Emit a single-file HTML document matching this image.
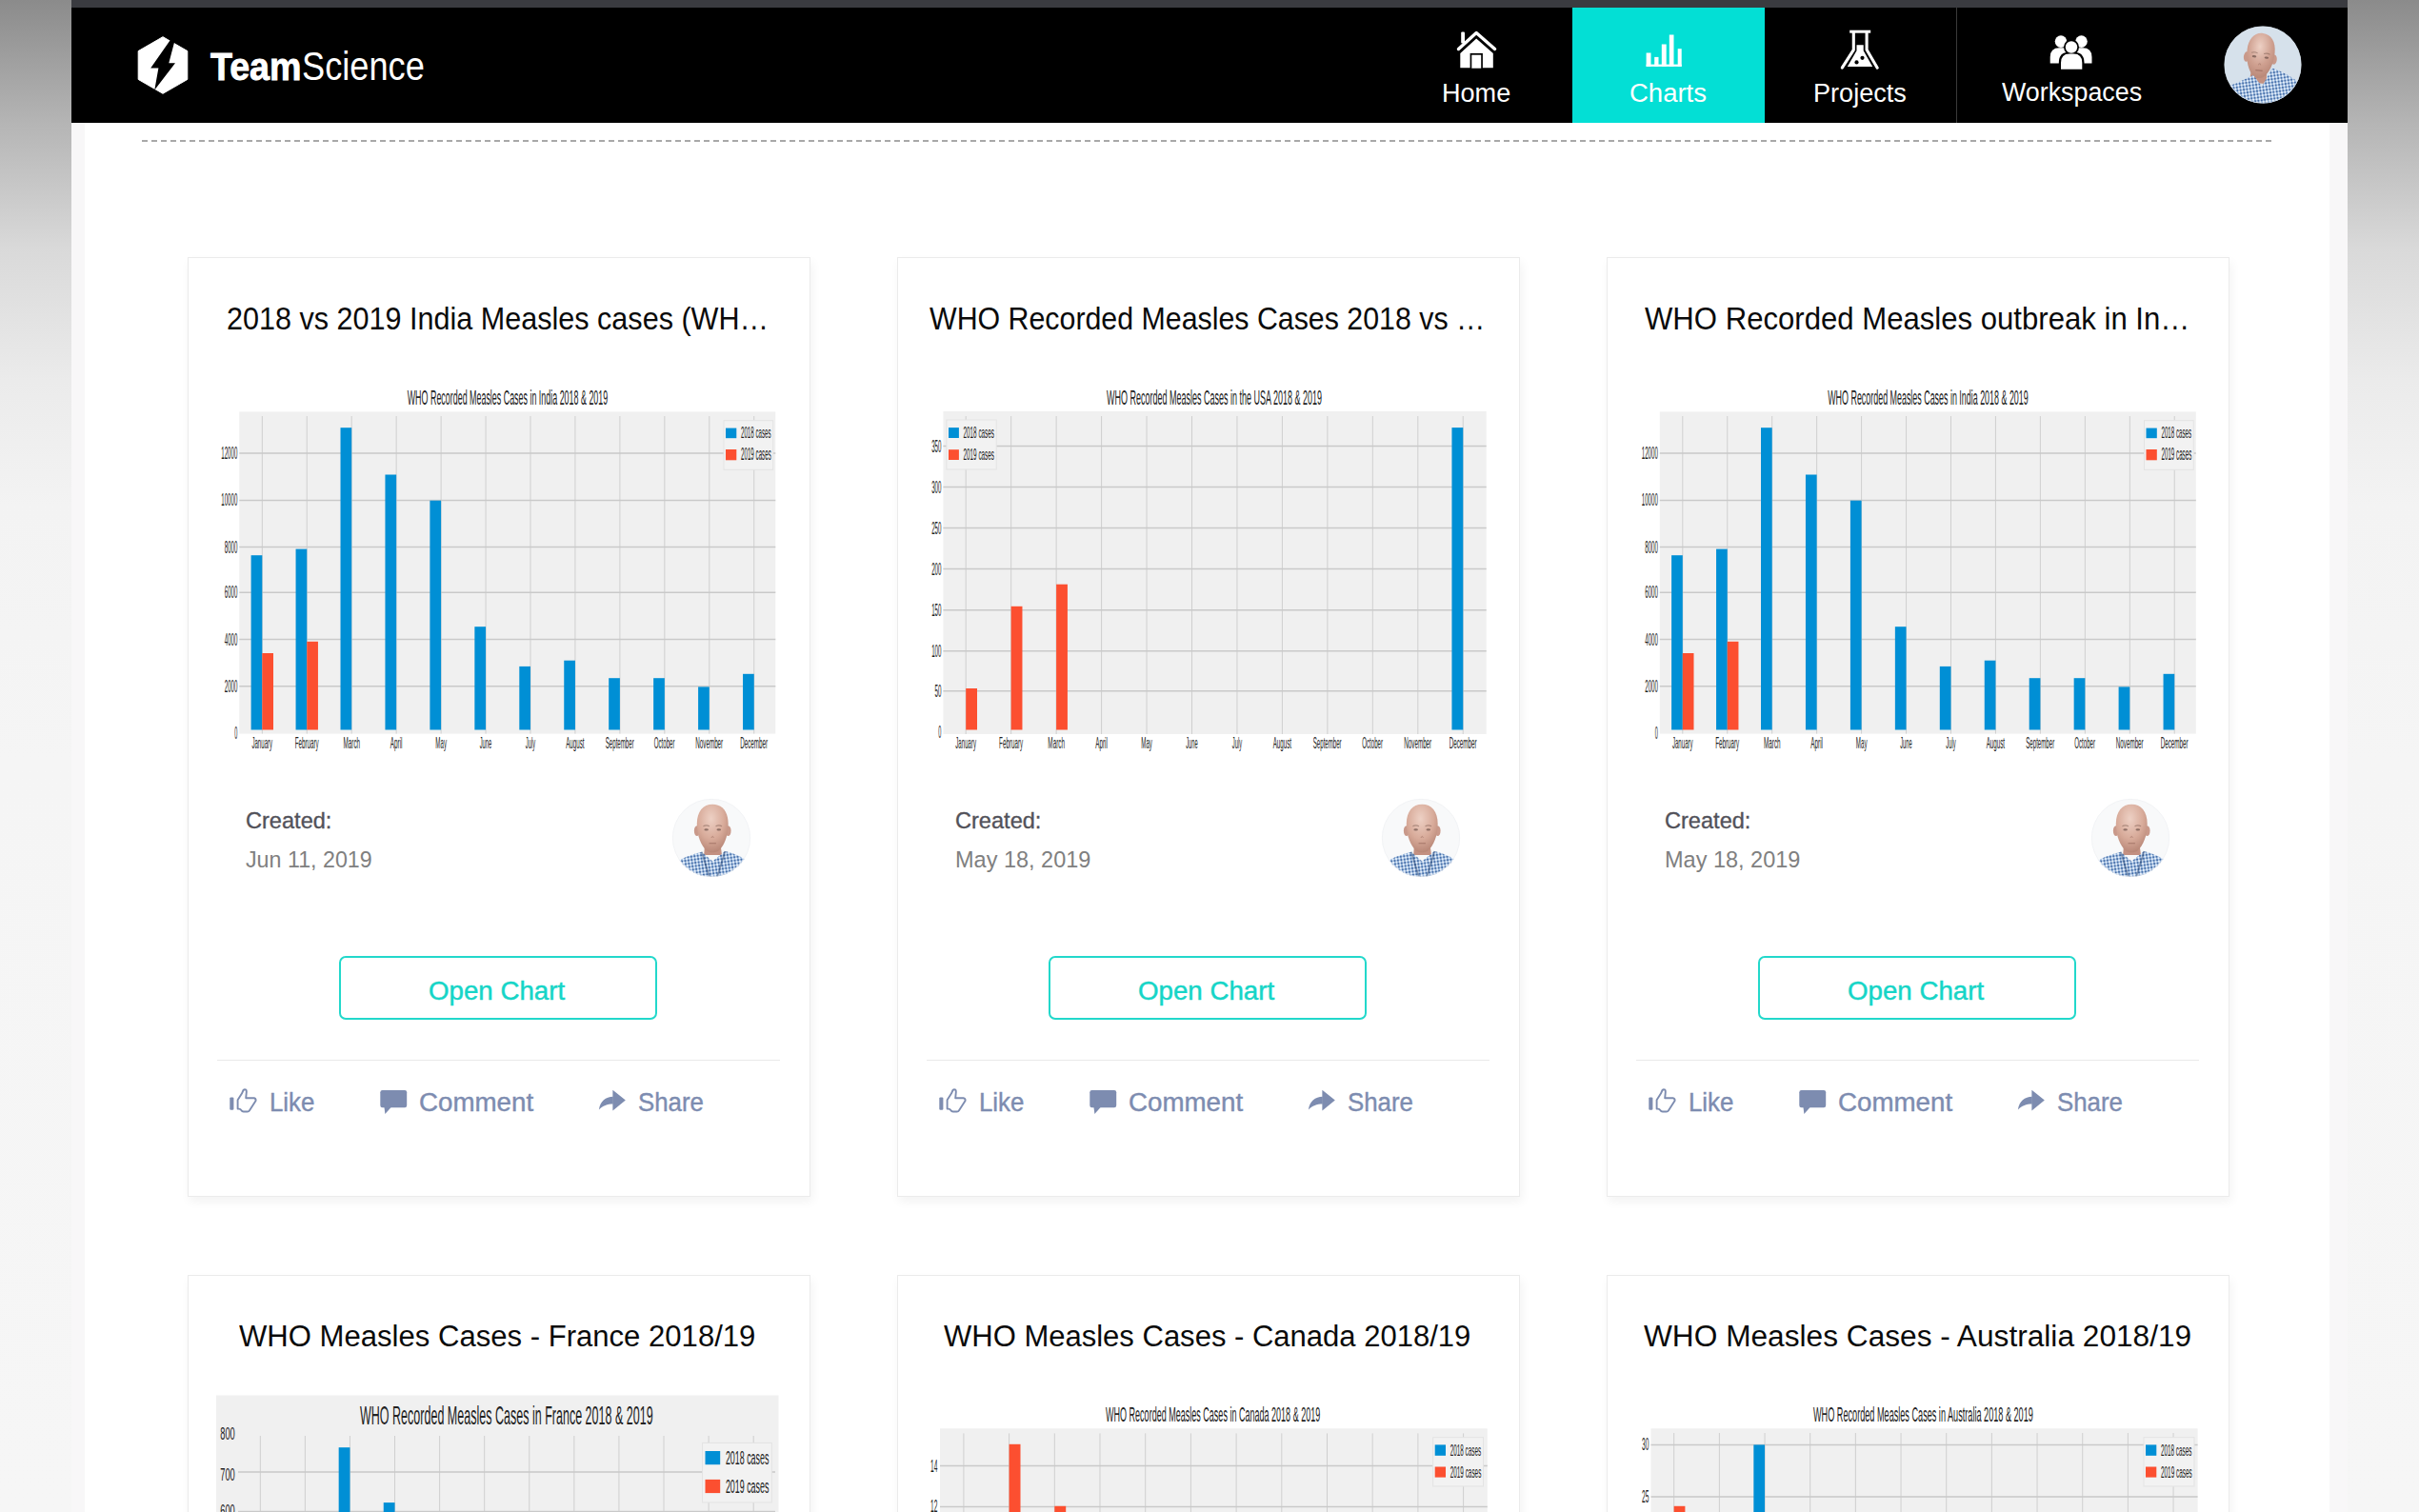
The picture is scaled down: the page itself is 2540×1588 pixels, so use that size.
<!DOCTYPE html><html><head><meta charset="utf-8"><style>
html,body{margin:0;padding:0}
body{width:2540px;height:1588px;overflow:hidden;position:relative;background:#f5f5f5;font-family:"Liberation Sans",sans-serif}
.a{position:absolute}
.t{position:absolute;white-space:nowrap;line-height:1;transform-origin:0 0}
svg{position:absolute;left:0;top:0;overflow:visible}
.card{position:absolute;background:#fff;border:1px solid #ebebeb;box-sizing:border-box;box-shadow:2px 5px 10px rgba(0,0,0,0.05)}
</style></head><body>

<div class="a" style="left:0;top:0;width:75px;height:1588px;background:linear-gradient(#8b8b8b 0px,#b5b5b5 130px,#d9d9d9 260px,#ebebeb 400px,#f3f3f3 530px,#f5f5f5 800px,#f6f6f6 1588px)"></div>
<div class="a" style="left:2465px;top:0;width:75px;height:1588px;background:linear-gradient(#8b8b8b 0px,#b5b5b5 130px,#d9d9d9 260px,#ebebeb 400px,#f3f3f3 530px,#f5f5f5 800px,#f6f6f6 1588px)"></div>
<div class="a" style="left:75px;top:0;width:2390px;height:8px;background:#3a3b40"></div>
<div class="a" style="left:75px;top:8px;width:2390px;height:121px;background:#000"></div>
<div class="a" style="left:75px;top:129px;width:2390px;height:1459px;background:#f8f7f8"></div>
<div class="a" style="left:89px;top:129px;width:2357px;height:1459px;background:#fff"></div>
<svg width="2540" height="1588"><line x1="149" y1="148" x2="2386" y2="148" stroke="#a8a8a8" stroke-width="2" stroke-dasharray="6 4"/></svg>
<div class="a" style="left:1651px;top:8px;width:202px;height:121px;background:#03dfd5"></div>
<div class="a" style="left:2054px;top:8px;width:1px;height:121px;background:#3a3a3a"></div>
<svg width="2540" height="1588"><polygon points="171,38.7 196.8,53.6 196.8,83.4 171,98.3 145.2,83.4 145.2,53.6" fill="#fff" stroke="#fff" stroke-width="1" stroke-linejoin="round"/><polygon points="179,41.8 183.2,43.8 177.3,66.2 184,66.2 162.3,94.5 166.4,71.6 158.2,71.6" fill="#000"/><path d="M1531.5 51.5 L1550.2 34.5 L1569.6 51.5" fill="none" stroke="#fff" stroke-width="3.4" stroke-linecap="round" stroke-linejoin="round"/><rect x="1534.2" y="33.5" width="3.8" height="12" fill="#fff" rx="1"/><path d="M1533.3 56 L1550.2 40.5 L1567.8 56 L1567.8 71.2 L1533.3 71.2 Z" fill="#fff"/><rect x="1543.6" y="55.9" width="13.3" height="16" fill="#000"/><rect x="1545.3" y="57.7" width="9.9" height="14" fill="#fff"/><rect x="1728.6" y="55.5" width="4.9" height="14.4" fill="#fff"/><rect x="1737.2" y="59.9" width="4.3" height="10.0" fill="#fff"/><rect x="1744.8" y="46.5" width="4.9" height="23.4" fill="#fff"/><rect x="1752.8" y="36.5" width="4.7" height="33.4" fill="#fff"/><rect x="1761.7" y="51.2" width="4.0" height="18.7" fill="#fff"/><rect x="1728.6" y="67.6" width="37.1" height="2.3" fill="#fff"/><path d="M1942.2 33.2 L1964.2 33.2" stroke="#fff" stroke-width="3" stroke-linecap="butt"/><path d="M1946.3 34 L1946.3 52.3 L1934.3 71.2" fill="none" stroke="#fff" stroke-width="3.1" stroke-linejoin="round" stroke-linecap="round"/><path d="M1960.1 34 L1960.1 52.3 L1971.2 71.2" fill="none" stroke="#fff" stroke-width="3.1" stroke-linejoin="round" stroke-linecap="round"/><path d="M1949.5 47.3 L1956.7 47.3 L1956.7 53.2 L1966.2 70 L1939.8 70 L1949.5 53.2 Z" fill="#fff"/><circle cx="1955.5" cy="60.8" r="2.1" fill="#000"/><circle cx="1949.5" cy="65.4" r="2.1" fill="#000"/><circle cx="2164" cy="43.6" r="6.3" fill="#fff"/><circle cx="2185.5" cy="43.6" r="6.3" fill="#fff"/><path d="M2152.7 66.4 L2152.7 60 Q2152.7 50.2 2162.5 50.2 L2166 50.2 Q2175.5 50.2 2175.5 60 L2175.5 66.4 Z" fill="#fff"/><path d="M2173.5 66.4 L2173.5 60 Q2173.5 50.2 2183.3 50.2 L2186.8 50.2 Q2196.5 50.2 2196.5 60 L2196.5 66.4 Z" fill="#fff"/><circle cx="2175" cy="49.5" r="8" fill="#000"/><path d="M2161.8 74.5 L2161.8 66 Q2161.8 54.8 2172.5 54.8 L2177.5 54.8 Q2188.5 54.8 2188.5 66 L2188.5 74.5 Z" fill="#000"/><circle cx="2175" cy="49.5" r="6.2" fill="#fff"/><path d="M2164 72.7 L2164 66 Q2164 56.5 2173 56.5 L2177.3 56.5 Q2186.3 56.5 2186.3 66 L2186.3 72.7 Z" fill="#fff"/></svg>
<div class="t" style="left:220.50px;top:49.39px;font-size:41.57px;color:#fff;font-weight:bold;transform:scaleX(0.9048);-webkit-text-stroke:0.9px #fff">Team</div>
<div class="t" style="left:316.50px;top:48.78px;font-size:42.29px;color:#fff;transform:scaleX(0.8567)">Science</div>
<div class="t" style="left:1514.00px;top:83.12px;font-size:28.19px;color:#fff;transform:scaleX(0.9600)">Home</div>
<div class="t" style="left:1711.00px;top:83.12px;font-size:28.19px;color:#fff;transform:scaleX(0.9759)">Charts</div>
<div class="t" style="left:1904.00px;top:83.12px;font-size:28.19px;color:#fff;transform:scaleX(0.9608)">Projects</div>
<div class="t" style="left:2102.00px;top:83.21px;font-size:27.38px;color:#fff;transform:scaleX(0.9800)">Workspaces</div>
<svg width="2540" height="1588"><defs><clipPath id="avc1"><circle cx="50" cy="50" r="50"/></clipPath><pattern id="avp1" width="4.2" height="4.2" patternUnits="userSpaceOnUse" patternTransform="rotate(-8)"><rect width="4.2" height="4.2" fill="#eaf0f8"/><rect width="2.1" height="4.2" fill="#98b9e0"/><rect width="4.2" height="2.1" fill="#98b9e0" opacity="0.8"/><rect width="2.1" height="2.1" fill="#4a6fa6"/></pattern><radialGradient id="avs1" cx="0.45" cy="0.3" r="0.7"><stop offset="0" stop-color="#edd0c4"/><stop offset="0.6" stop-color="#cfa090"/><stop offset="1" stop-color="#b98878"/></radialGradient></defs><g transform="translate(2335.50 27.50) scale(0.8100)"><g clip-path="url(#avc1)"><rect x="0" y="0" width="100" height="100" fill="#d6e1eb"/><g transform="rotate(6.0 47.0 38.5)"><path d="M36.0 74.0 L37.0 58.5 L57.0 58.5 L59.0 74.0 Z" fill="#c39181"/><ellipse cx="29.0" cy="41.5" rx="3.6" ry="6.5" fill="#c9998a"/><ellipse cx="65.0" cy="41.5" rx="3.6" ry="6.5" fill="#c9998a"/><path d="M47.0 9.0 C57.8 9.0 65.0 18.0 65.0 32.5 C65.0 47.5 60.5 59.0 53.3 66.0 C49.7 68.0 44.3 68.0 40.7 66.0 C33.5 59.0 29.0 47.5 29.0 32.5 C29.0 18.0 36.2 9.0 47.0 9.0 Z" fill="url(#avs1)"/><ellipse cx="39.0" cy="40.0" rx="2.8" ry="1.4" fill="#4a3430" opacity="0.55"/><ellipse cx="55.0" cy="40.0" rx="2.8" ry="1.4" fill="#4a3430" opacity="0.55"/><path d="M35.0 35.5 q4 -2 8 0 M51.0 35.5 q4 -2 8 0" stroke="#7a5a50" stroke-width="1.3" fill="none" opacity="0.5"/><path d="M45.5 50.5 q1.5 -4 3 0" stroke="#9a6c60" stroke-width="1.2" fill="none" opacity="0.5"/><path d="M42.5 57.5 h9" stroke="#8a5a50" stroke-width="1.3" opacity="0.55"/></g><path d="M-5 105 L-2 84 Q8 76 16.7 73.5 L37.6 63.6 L49 78 L62.3 54.2 Q85 62 100 76 L105 105 Z" fill="url(#avp1)"/></g><circle cx="50" cy="50" r="49.6" fill="none" stroke="#d6e1eb" stroke-width="0.8"/></g></svg>
<div class="card" style="left:197px;top:270px;width:654px;height:987px"></div>
<div class="card" style="left:942px;top:270px;width:654px;height:987px"></div>
<div class="card" style="left:1687px;top:270px;width:654px;height:987px"></div>
<div class="card" style="left:197px;top:1339px;width:654px;height:400px"></div>
<div class="card" style="left:942px;top:1339px;width:654px;height:400px"></div>
<div class="card" style="left:1687px;top:1339px;width:654px;height:400px"></div>
<div class="t" style="left:238.00px;top:319.19px;font-size:32.48px;color:#0a0a0a;transform:scaleX(0.9413)">2018 vs 2019 India Measles cases (WH…</div>
<div class="t" style="left:976.20px;top:319.19px;font-size:32.48px;color:#0a0a0a;transform:scaleX(0.9343)">WHO Recorded Measles Cases 2018 vs …</div>
<div class="t" style="left:1727.40px;top:319.19px;font-size:32.48px;color:#0a0a0a;transform:scaleX(0.9583)">WHO Recorded Measles outbreak in In…</div>
<div class="t" style="left:250.70px;top:1388.18px;font-size:30.60px;color:#0a0a0a;transform:scaleX(1.0159)">WHO Measles Cases - France 2018/19</div>
<div class="t" style="left:991.30px;top:1388.18px;font-size:30.60px;color:#0a0a0a;transform:scaleX(1.0136)">WHO Measles Cases - Canada 2018/19</div>
<div class="t" style="left:1725.80px;top:1388.18px;font-size:30.60px;color:#0a0a0a;transform:scaleX(1.0345)">WHO Measles Cases - Australia 2018/19</div>
<div class="t" style="left:257.70px;top:850.32px;font-size:24.30px;color:#52525a;transform:scaleX(0.9699);-webkit-text-stroke:0.35px #52525a">Created:</div>
<div class="t" style="left:258.00px;top:890.84px;font-size:24.16px;color:#808080;transform:scaleX(0.9623)">Jun 11, 2019</div>
<div class="a" style="left:355.5px;top:1004px;width:334px;height:67px;border:2px solid #22d8cb;border-radius:7px;box-sizing:border-box"></div>
<div class="t" style="left:450.40px;top:1027.23px;font-size:27.11px;color:#16d5c7;transform:scaleX(1.0213);-webkit-text-stroke:0.45px #16d5c7">Open Chart</div>
<div class="a" style="left:228.0px;top:1112.5px;width:591px;height:1.5px;background:#e9e9e9"></div>
<div class="t" style="left:282.80px;top:1143.51px;font-size:27.38px;color:#7d8cb0;transform:scaleX(0.9440);-webkit-text-stroke:0.4px #7d8cb0">Like</div>
<div class="t" style="left:439.90px;top:1143.51px;font-size:27.38px;color:#7d8cb0;transform:scaleX(1.0126);-webkit-text-stroke:0.4px #7d8cb0">Comment</div>
<div class="t" style="left:669.50px;top:1143.51px;font-size:27.38px;color:#7d8cb0;transform:scaleX(0.9425);-webkit-text-stroke:0.4px #7d8cb0">Share</div>
<div class="t" style="left:1002.70px;top:850.32px;font-size:24.30px;color:#52525a;transform:scaleX(0.9699);-webkit-text-stroke:0.35px #52525a">Created:</div>
<div class="t" style="left:1003.00px;top:890.84px;font-size:24.16px;color:#808080;transform:scaleX(0.9726)">May 18, 2019</div>
<div class="a" style="left:1100.5px;top:1004px;width:334px;height:67px;border:2px solid #22d8cb;border-radius:7px;box-sizing:border-box"></div>
<div class="t" style="left:1195.40px;top:1027.23px;font-size:27.11px;color:#16d5c7;transform:scaleX(1.0213);-webkit-text-stroke:0.45px #16d5c7">Open Chart</div>
<div class="a" style="left:973.0px;top:1112.5px;width:591px;height:1.5px;background:#e9e9e9"></div>
<div class="t" style="left:1027.80px;top:1143.51px;font-size:27.38px;color:#7d8cb0;transform:scaleX(0.9440);-webkit-text-stroke:0.4px #7d8cb0">Like</div>
<div class="t" style="left:1184.90px;top:1143.51px;font-size:27.38px;color:#7d8cb0;transform:scaleX(1.0126);-webkit-text-stroke:0.4px #7d8cb0">Comment</div>
<div class="t" style="left:1414.50px;top:1143.51px;font-size:27.38px;color:#7d8cb0;transform:scaleX(0.9425);-webkit-text-stroke:0.4px #7d8cb0">Share</div>
<div class="t" style="left:1747.70px;top:850.32px;font-size:24.30px;color:#52525a;transform:scaleX(0.9699);-webkit-text-stroke:0.35px #52525a">Created:</div>
<div class="t" style="left:1748.00px;top:890.84px;font-size:24.16px;color:#808080;transform:scaleX(0.9726)">May 18, 2019</div>
<div class="a" style="left:1845.5px;top:1004px;width:334px;height:67px;border:2px solid #22d8cb;border-radius:7px;box-sizing:border-box"></div>
<div class="t" style="left:1940.40px;top:1027.23px;font-size:27.11px;color:#16d5c7;transform:scaleX(1.0213);-webkit-text-stroke:0.45px #16d5c7">Open Chart</div>
<div class="a" style="left:1718.0px;top:1112.5px;width:591px;height:1.5px;background:#e9e9e9"></div>
<div class="t" style="left:1772.80px;top:1143.51px;font-size:27.38px;color:#7d8cb0;transform:scaleX(0.9440);-webkit-text-stroke:0.4px #7d8cb0">Like</div>
<div class="t" style="left:1929.90px;top:1143.51px;font-size:27.38px;color:#7d8cb0;transform:scaleX(1.0126);-webkit-text-stroke:0.4px #7d8cb0">Comment</div>
<div class="t" style="left:2159.50px;top:1143.51px;font-size:27.38px;color:#7d8cb0;transform:scaleX(0.9425);-webkit-text-stroke:0.4px #7d8cb0">Share</div>
<svg width="2540" height="1588"><g transform="translate(0 0)"><rect x="241.3" y="1152.4" width="4.1" height="13.4" rx="1.2" fill="#7d8cb0"/><path d="M249.6 1164.5 L249.6 1155.2 L253.9 1148.6 L255.5 1145 Q256.8 1143.6 258.3 1144.6 Q258.9 1145.4 258.8 1147 L258.2 1153.3 L266.6 1153.3 Q268.8 1153.6 268.6 1156 L262 1166.2 Q261.2 1167.5 259.8 1167.5 L255.8 1167.5 Q254.2 1167.4 253.3 1166 Q252.5 1164.8 251 1164.6 Z" fill="none" stroke="#7d8cb0" stroke-width="1.9" stroke-linejoin="round"/><rect x="399.3" y="1145" width="27.9" height="18.3" rx="2.2" fill="#7d8cb0"/><path d="M403.4 1162.5 L411 1162.5 L404.4 1170 Z" fill="#7d8cb0"/><path d="M643.4 1144.7 L656.8 1155.5 L643.4 1166.6 Z" fill="#7d8cb0"/><path d="M643.8 1151.8 C636 1151.8 630.2 1156.5 628.9 1165.6 C633 1161 637.5 1159.4 643.8 1159.4 Z" fill="#7d8cb0"/></g><defs><clipPath id="avc2"><circle cx="50" cy="50" r="50"/></clipPath><pattern id="avp2" width="4.2" height="4.2" patternUnits="userSpaceOnUse" patternTransform="rotate(-8)"><rect width="4.2" height="4.2" fill="#eaf0f8"/><rect width="2.1" height="4.2" fill="#98b9e0"/><rect width="4.2" height="2.1" fill="#98b9e0" opacity="0.8"/><rect width="2.1" height="2.1" fill="#4a6fa6"/></pattern><radialGradient id="avs2" cx="0.45" cy="0.3" r="0.7"><stop offset="0" stop-color="#edd0c4"/><stop offset="0.6" stop-color="#d8ab9a"/><stop offset="1" stop-color="#b98878"/></radialGradient></defs><g transform="translate(706.00 839.00) scale(0.8200)"><g clip-path="url(#avc2)"><rect x="0" y="0" width="100" height="100" fill="#f8f9fa"/><g transform="rotate(0.0 51.5 38.0)"><path d="M40.5 72.0 L41.5 58.0 L61.5 58.0 L63.5 72.0 Z" fill="#c39181"/><ellipse cx="31.5" cy="41.0" rx="3.6" ry="6.5" fill="#c9998a"/><ellipse cx="71.5" cy="41.0" rx="3.6" ry="6.5" fill="#c9998a"/><path d="M51.5 7.0 C63.5 7.0 71.5 16.0 71.5 32.0 C71.5 47.0 66.5 60.0 58.5 67.0 C54.5 69.0 48.5 69.0 44.5 67.0 C36.5 60.0 31.5 47.0 31.5 32.0 C31.5 16.0 39.5 7.0 51.5 7.0 Z" fill="url(#avs2)"/><ellipse cx="43.5" cy="39.5" rx="2.8" ry="1.4" fill="#4a3430" opacity="0.55"/><ellipse cx="59.5" cy="39.5" rx="2.8" ry="1.4" fill="#4a3430" opacity="0.55"/><path d="M39.5 35.0 q4 -2 8 0 M55.5 35.0 q4 -2 8 0" stroke="#7a5a50" stroke-width="1.3" fill="none" opacity="0.5"/><path d="M50.0 50.0 q1.5 -4 3 0" stroke="#9a6c60" stroke-width="1.2" fill="none" opacity="0.5"/><path d="M47.0 57.0 h9" stroke="#8a5a50" stroke-width="1.3" opacity="0.55"/></g><path d="M-5 105 L2 84 Q12 74 37.5 68.0 L51.5 80.0 L67.5 67.0 Q88 72 98 82 L105 105 Z" fill="url(#avp2)"/><path d="M37.5 68.0 L47.5 100 M67.5 67.0 L57.5 100" stroke="#203c68" stroke-width="2.2" opacity="0.45"/></g><circle cx="50" cy="50" r="49.6" fill="none" stroke="#eef0f2" stroke-width="0.8"/></g><g transform="translate(745 0)"><rect x="241.3" y="1152.4" width="4.1" height="13.4" rx="1.2" fill="#7d8cb0"/><path d="M249.6 1164.5 L249.6 1155.2 L253.9 1148.6 L255.5 1145 Q256.8 1143.6 258.3 1144.6 Q258.9 1145.4 258.8 1147 L258.2 1153.3 L266.6 1153.3 Q268.8 1153.6 268.6 1156 L262 1166.2 Q261.2 1167.5 259.8 1167.5 L255.8 1167.5 Q254.2 1167.4 253.3 1166 Q252.5 1164.8 251 1164.6 Z" fill="none" stroke="#7d8cb0" stroke-width="1.9" stroke-linejoin="round"/><rect x="399.3" y="1145" width="27.9" height="18.3" rx="2.2" fill="#7d8cb0"/><path d="M403.4 1162.5 L411 1162.5 L404.4 1170 Z" fill="#7d8cb0"/><path d="M643.4 1144.7 L656.8 1155.5 L643.4 1166.6 Z" fill="#7d8cb0"/><path d="M643.8 1151.8 C636 1151.8 630.2 1156.5 628.9 1165.6 C633 1161 637.5 1159.4 643.8 1159.4 Z" fill="#7d8cb0"/></g><defs><clipPath id="avc3"><circle cx="50" cy="50" r="50"/></clipPath><pattern id="avp3" width="4.2" height="4.2" patternUnits="userSpaceOnUse" patternTransform="rotate(-8)"><rect width="4.2" height="4.2" fill="#eaf0f8"/><rect width="2.1" height="4.2" fill="#98b9e0"/><rect width="4.2" height="2.1" fill="#98b9e0" opacity="0.8"/><rect width="2.1" height="2.1" fill="#4a6fa6"/></pattern><radialGradient id="avs3" cx="0.45" cy="0.3" r="0.7"><stop offset="0" stop-color="#edd0c4"/><stop offset="0.6" stop-color="#d8ab9a"/><stop offset="1" stop-color="#b98878"/></radialGradient></defs><g transform="translate(1451.00 839.00) scale(0.8200)"><g clip-path="url(#avc3)"><rect x="0" y="0" width="100" height="100" fill="#f8f9fa"/><g transform="rotate(0.0 51.5 38.0)"><path d="M40.5 72.0 L41.5 58.0 L61.5 58.0 L63.5 72.0 Z" fill="#c39181"/><ellipse cx="31.5" cy="41.0" rx="3.6" ry="6.5" fill="#c9998a"/><ellipse cx="71.5" cy="41.0" rx="3.6" ry="6.5" fill="#c9998a"/><path d="M51.5 7.0 C63.5 7.0 71.5 16.0 71.5 32.0 C71.5 47.0 66.5 60.0 58.5 67.0 C54.5 69.0 48.5 69.0 44.5 67.0 C36.5 60.0 31.5 47.0 31.5 32.0 C31.5 16.0 39.5 7.0 51.5 7.0 Z" fill="url(#avs3)"/><ellipse cx="43.5" cy="39.5" rx="2.8" ry="1.4" fill="#4a3430" opacity="0.55"/><ellipse cx="59.5" cy="39.5" rx="2.8" ry="1.4" fill="#4a3430" opacity="0.55"/><path d="M39.5 35.0 q4 -2 8 0 M55.5 35.0 q4 -2 8 0" stroke="#7a5a50" stroke-width="1.3" fill="none" opacity="0.5"/><path d="M50.0 50.0 q1.5 -4 3 0" stroke="#9a6c60" stroke-width="1.2" fill="none" opacity="0.5"/><path d="M47.0 57.0 h9" stroke="#8a5a50" stroke-width="1.3" opacity="0.55"/></g><path d="M-5 105 L2 84 Q12 74 37.5 68.0 L51.5 80.0 L67.5 67.0 Q88 72 98 82 L105 105 Z" fill="url(#avp3)"/><path d="M37.5 68.0 L47.5 100 M67.5 67.0 L57.5 100" stroke="#203c68" stroke-width="2.2" opacity="0.45"/></g><circle cx="50" cy="50" r="49.6" fill="none" stroke="#eef0f2" stroke-width="0.8"/></g><g transform="translate(1490 0)"><rect x="241.3" y="1152.4" width="4.1" height="13.4" rx="1.2" fill="#7d8cb0"/><path d="M249.6 1164.5 L249.6 1155.2 L253.9 1148.6 L255.5 1145 Q256.8 1143.6 258.3 1144.6 Q258.9 1145.4 258.8 1147 L258.2 1153.3 L266.6 1153.3 Q268.8 1153.6 268.6 1156 L262 1166.2 Q261.2 1167.5 259.8 1167.5 L255.8 1167.5 Q254.2 1167.4 253.3 1166 Q252.5 1164.8 251 1164.6 Z" fill="none" stroke="#7d8cb0" stroke-width="1.9" stroke-linejoin="round"/><rect x="399.3" y="1145" width="27.9" height="18.3" rx="2.2" fill="#7d8cb0"/><path d="M403.4 1162.5 L411 1162.5 L404.4 1170 Z" fill="#7d8cb0"/><path d="M643.4 1144.7 L656.8 1155.5 L643.4 1166.6 Z" fill="#7d8cb0"/><path d="M643.8 1151.8 C636 1151.8 630.2 1156.5 628.9 1165.6 C633 1161 637.5 1159.4 643.8 1159.4 Z" fill="#7d8cb0"/></g><defs><clipPath id="avc4"><circle cx="50" cy="50" r="50"/></clipPath><pattern id="avp4" width="4.2" height="4.2" patternUnits="userSpaceOnUse" patternTransform="rotate(-8)"><rect width="4.2" height="4.2" fill="#eaf0f8"/><rect width="2.1" height="4.2" fill="#98b9e0"/><rect width="4.2" height="2.1" fill="#98b9e0" opacity="0.8"/><rect width="2.1" height="2.1" fill="#4a6fa6"/></pattern><radialGradient id="avs4" cx="0.45" cy="0.3" r="0.7"><stop offset="0" stop-color="#edd0c4"/><stop offset="0.6" stop-color="#d8ab9a"/><stop offset="1" stop-color="#b98878"/></radialGradient></defs><g transform="translate(2196.00 839.00) scale(0.8200)"><g clip-path="url(#avc4)"><rect x="0" y="0" width="100" height="100" fill="#f8f9fa"/><g transform="rotate(0.0 51.5 38.0)"><path d="M40.5 72.0 L41.5 58.0 L61.5 58.0 L63.5 72.0 Z" fill="#c39181"/><ellipse cx="31.5" cy="41.0" rx="3.6" ry="6.5" fill="#c9998a"/><ellipse cx="71.5" cy="41.0" rx="3.6" ry="6.5" fill="#c9998a"/><path d="M51.5 7.0 C63.5 7.0 71.5 16.0 71.5 32.0 C71.5 47.0 66.5 60.0 58.5 67.0 C54.5 69.0 48.5 69.0 44.5 67.0 C36.5 60.0 31.5 47.0 31.5 32.0 C31.5 16.0 39.5 7.0 51.5 7.0 Z" fill="url(#avs4)"/><ellipse cx="43.5" cy="39.5" rx="2.8" ry="1.4" fill="#4a3430" opacity="0.55"/><ellipse cx="59.5" cy="39.5" rx="2.8" ry="1.4" fill="#4a3430" opacity="0.55"/><path d="M39.5 35.0 q4 -2 8 0 M55.5 35.0 q4 -2 8 0" stroke="#7a5a50" stroke-width="1.3" fill="none" opacity="0.5"/><path d="M50.0 50.0 q1.5 -4 3 0" stroke="#9a6c60" stroke-width="1.2" fill="none" opacity="0.5"/><path d="M47.0 57.0 h9" stroke="#8a5a50" stroke-width="1.3" opacity="0.55"/></g><path d="M-5 105 L2 84 Q12 74 37.5 68.0 L51.5 80.0 L67.5 67.0 Q88 72 98 82 L105 105 Z" fill="url(#avp4)"/><path d="M37.5 68.0 L47.5 100 M67.5 67.0 L57.5 100" stroke="#203c68" stroke-width="2.2" opacity="0.45"/></g><circle cx="50" cy="50" r="49.6" fill="none" stroke="#eef0f2" stroke-width="0.8"/></g></svg>
<svg width="2540" height="1588" font-family="Liberation Sans, sans-serif"><rect x="251.3" y="432.4" width="563.0" height="338.2" fill="#f0f0f0"/><line x1="275.30" y1="437.0" x2="275.30" y2="770.6" stroke="#cfcfcf" stroke-width="1"/><line x1="322.25" y1="437.0" x2="322.25" y2="770.6" stroke="#cfcfcf" stroke-width="1"/><line x1="369.20" y1="437.0" x2="369.20" y2="770.6" stroke="#cfcfcf" stroke-width="1"/><line x1="416.15" y1="437.0" x2="416.15" y2="770.6" stroke="#cfcfcf" stroke-width="1"/><line x1="463.10" y1="437.0" x2="463.10" y2="770.6" stroke="#cfcfcf" stroke-width="1"/><line x1="510.05" y1="437.0" x2="510.05" y2="770.6" stroke="#cfcfcf" stroke-width="1"/><line x1="557.00" y1="437.0" x2="557.00" y2="770.6" stroke="#cfcfcf" stroke-width="1"/><line x1="603.95" y1="437.0" x2="603.95" y2="770.6" stroke="#cfcfcf" stroke-width="1"/><line x1="650.90" y1="437.0" x2="650.90" y2="770.6" stroke="#cfcfcf" stroke-width="1"/><line x1="697.85" y1="437.0" x2="697.85" y2="770.6" stroke="#cfcfcf" stroke-width="1"/><line x1="744.80" y1="437.0" x2="744.80" y2="770.6" stroke="#cfcfcf" stroke-width="1"/><line x1="791.75" y1="437.0" x2="791.75" y2="770.6" stroke="#cfcfcf" stroke-width="1"/><line x1="251.3" y1="476.00" x2="814.3" y2="476.00" stroke="#c9c9c9" stroke-width="1.5"/><line x1="251.3" y1="525.40" x2="814.3" y2="525.40" stroke="#c9c9c9" stroke-width="1.5"/><line x1="251.3" y1="574.60" x2="814.3" y2="574.60" stroke="#c9c9c9" stroke-width="1.5"/><line x1="251.3" y1="622.20" x2="814.3" y2="622.20" stroke="#c9c9c9" stroke-width="1.5"/><line x1="251.3" y1="671.60" x2="814.3" y2="671.60" stroke="#c9c9c9" stroke-width="1.5"/><line x1="251.3" y1="720.80" x2="814.3" y2="720.80" stroke="#c9c9c9" stroke-width="1.5"/><rect x="263.60" y="583.20" width="11.70" height="183.30" fill="#008fd5"/><rect x="310.55" y="576.60" width="11.70" height="189.90" fill="#008fd5"/><rect x="357.50" y="449.20" width="11.70" height="317.30" fill="#008fd5"/><rect x="404.45" y="498.50" width="11.70" height="268.00" fill="#008fd5"/><rect x="451.40" y="525.70" width="11.70" height="240.80" fill="#008fd5"/><rect x="498.35" y="658.20" width="11.70" height="108.30" fill="#008fd5"/><rect x="545.30" y="699.90" width="11.70" height="66.60" fill="#008fd5"/><rect x="592.25" y="693.70" width="11.70" height="72.80" fill="#008fd5"/><rect x="639.20" y="712.20" width="11.70" height="54.30" fill="#008fd5"/><rect x="686.15" y="712.20" width="11.70" height="54.30" fill="#008fd5"/><rect x="733.10" y="721.40" width="11.70" height="45.10" fill="#008fd5"/><rect x="780.05" y="707.80" width="11.70" height="58.70" fill="#008fd5"/><rect x="275.30" y="686.00" width="11.70" height="80.50" fill="#fc4f30"/><rect x="322.25" y="673.80" width="11.70" height="92.70" fill="#fc4f30"/><text transform="translate(427.70 424.50) scale(0.4091 1)" font-size="21.80" fill="#222">WHO Recorded Measles Cases in India 2018 &amp; 2019</text><text transform="translate(264.40 785.60) scale(0.3825 1)" font-size="15.99" fill="#222">January</text><text transform="translate(309.70 785.60) scale(0.3922 1)" font-size="15.99" fill="#222">February</text><text transform="translate(360.45 785.60) scale(0.3977 1)" font-size="15.99" fill="#222">March</text><text transform="translate(409.80 785.60) scale(0.3969 1)" font-size="15.99" fill="#222">April</text><text transform="translate(457.30 785.60) scale(0.3867 1)" font-size="15.99" fill="#222">May</text><text transform="translate(503.75 785.60) scale(0.3600 1)" font-size="15.99" fill="#222">June</text><text transform="translate(551.85 785.60) scale(0.3679 1)" font-size="15.99" fill="#222">July</text><text transform="translate(594.20 785.60) scale(0.3900 1)" font-size="15.99" fill="#222">August</text><text transform="translate(635.80 785.60) scale(0.3823 1)" font-size="15.99" fill="#222">September</text><text transform="translate(686.80 785.60) scale(0.3810 1)" font-size="15.99" fill="#222">October</text><text transform="translate(730.25 785.60) scale(0.3932 1)" font-size="15.99" fill="#222">November</text><text transform="translate(777.20 785.60) scale(0.3932 1)" font-size="15.99" fill="#222">December</text><text transform="translate(232.25 482.00) scale(0.3520 1)" font-size="17.44" fill="#222">12000</text><text transform="translate(232.25 531.40) scale(0.3520 1)" font-size="17.44" fill="#222">10000</text><text transform="translate(235.70 580.60) scale(0.3538 1)" font-size="17.44" fill="#222">8000</text><text transform="translate(235.70 628.20) scale(0.3538 1)" font-size="17.44" fill="#222">6000</text><text transform="translate(235.70 677.60) scale(0.3538 1)" font-size="17.44" fill="#222">4000</text><text transform="translate(235.70 726.80) scale(0.3538 1)" font-size="17.44" fill="#222">2000</text><text transform="translate(246.30 776.00) scale(0.3200 1)" font-size="17.44" fill="#222">0</text><rect x="760.0" y="441.7" width="51.7" height="51.6" fill="#f2f2f2" stroke="#e3e3e3" stroke-width="1"/><rect x="762.0" y="449.6" width="11.3" height="10.6" fill="#008fd5"/><rect x="762.0" y="472.0" width="11.3" height="11.3" fill="#fc4f30"/><text transform="translate(778.00 460.20) scale(0.3729 1)" font-size="16.57" fill="#222">2018 cases</text><text transform="translate(778.00 483.30) scale(0.3562 1)" font-size="17.44" fill="#222">2019 cases</text><rect x="1742.8" y="432.4" width="563.0" height="338.2" fill="#f0f0f0"/><line x1="1766.80" y1="437.0" x2="1766.80" y2="770.6" stroke="#cfcfcf" stroke-width="1"/><line x1="1813.75" y1="437.0" x2="1813.75" y2="770.6" stroke="#cfcfcf" stroke-width="1"/><line x1="1860.70" y1="437.0" x2="1860.70" y2="770.6" stroke="#cfcfcf" stroke-width="1"/><line x1="1907.65" y1="437.0" x2="1907.65" y2="770.6" stroke="#cfcfcf" stroke-width="1"/><line x1="1954.60" y1="437.0" x2="1954.60" y2="770.6" stroke="#cfcfcf" stroke-width="1"/><line x1="2001.55" y1="437.0" x2="2001.55" y2="770.6" stroke="#cfcfcf" stroke-width="1"/><line x1="2048.50" y1="437.0" x2="2048.50" y2="770.6" stroke="#cfcfcf" stroke-width="1"/><line x1="2095.45" y1="437.0" x2="2095.45" y2="770.6" stroke="#cfcfcf" stroke-width="1"/><line x1="2142.40" y1="437.0" x2="2142.40" y2="770.6" stroke="#cfcfcf" stroke-width="1"/><line x1="2189.35" y1="437.0" x2="2189.35" y2="770.6" stroke="#cfcfcf" stroke-width="1"/><line x1="2236.30" y1="437.0" x2="2236.30" y2="770.6" stroke="#cfcfcf" stroke-width="1"/><line x1="2283.25" y1="437.0" x2="2283.25" y2="770.6" stroke="#cfcfcf" stroke-width="1"/><line x1="1742.8" y1="476.00" x2="2305.8" y2="476.00" stroke="#c9c9c9" stroke-width="1.5"/><line x1="1742.8" y1="525.40" x2="2305.8" y2="525.40" stroke="#c9c9c9" stroke-width="1.5"/><line x1="1742.8" y1="574.60" x2="2305.8" y2="574.60" stroke="#c9c9c9" stroke-width="1.5"/><line x1="1742.8" y1="622.20" x2="2305.8" y2="622.20" stroke="#c9c9c9" stroke-width="1.5"/><line x1="1742.8" y1="671.60" x2="2305.8" y2="671.60" stroke="#c9c9c9" stroke-width="1.5"/><line x1="1742.8" y1="720.80" x2="2305.8" y2="720.80" stroke="#c9c9c9" stroke-width="1.5"/><rect x="1755.10" y="583.20" width="11.70" height="183.30" fill="#008fd5"/><rect x="1802.05" y="576.60" width="11.70" height="189.90" fill="#008fd5"/><rect x="1849.00" y="449.20" width="11.70" height="317.30" fill="#008fd5"/><rect x="1895.95" y="498.50" width="11.70" height="268.00" fill="#008fd5"/><rect x="1942.90" y="525.70" width="11.70" height="240.80" fill="#008fd5"/><rect x="1989.85" y="658.20" width="11.70" height="108.30" fill="#008fd5"/><rect x="2036.80" y="699.90" width="11.70" height="66.60" fill="#008fd5"/><rect x="2083.75" y="693.70" width="11.70" height="72.80" fill="#008fd5"/><rect x="2130.70" y="712.20" width="11.70" height="54.30" fill="#008fd5"/><rect x="2177.65" y="712.20" width="11.70" height="54.30" fill="#008fd5"/><rect x="2224.60" y="721.40" width="11.70" height="45.10" fill="#008fd5"/><rect x="2271.55" y="707.80" width="11.70" height="58.70" fill="#008fd5"/><rect x="1766.80" y="686.00" width="11.70" height="80.50" fill="#fc4f30"/><rect x="1813.75" y="673.80" width="11.70" height="92.70" fill="#fc4f30"/><text transform="translate(1919.20 424.50) scale(0.4091 1)" font-size="21.80" fill="#222">WHO Recorded Measles Cases in India 2018 &amp; 2019</text><text transform="translate(1755.90 785.60) scale(0.3825 1)" font-size="15.99" fill="#222">January</text><text transform="translate(1801.20 785.60) scale(0.3922 1)" font-size="15.99" fill="#222">February</text><text transform="translate(1851.95 785.60) scale(0.3977 1)" font-size="15.99" fill="#222">March</text><text transform="translate(1901.30 785.60) scale(0.3969 1)" font-size="15.99" fill="#222">April</text><text transform="translate(1948.80 785.60) scale(0.3867 1)" font-size="15.99" fill="#222">May</text><text transform="translate(1995.25 785.60) scale(0.3600 1)" font-size="15.99" fill="#222">June</text><text transform="translate(2043.35 785.60) scale(0.3679 1)" font-size="15.99" fill="#222">July</text><text transform="translate(2085.70 785.60) scale(0.3900 1)" font-size="15.99" fill="#222">August</text><text transform="translate(2127.30 785.60) scale(0.3823 1)" font-size="15.99" fill="#222">September</text><text transform="translate(2178.30 785.60) scale(0.3810 1)" font-size="15.99" fill="#222">October</text><text transform="translate(2221.75 785.60) scale(0.3932 1)" font-size="15.99" fill="#222">November</text><text transform="translate(2268.70 785.60) scale(0.3932 1)" font-size="15.99" fill="#222">December</text><text transform="translate(1723.75 482.00) scale(0.3520 1)" font-size="17.44" fill="#222">12000</text><text transform="translate(1723.75 531.40) scale(0.3520 1)" font-size="17.44" fill="#222">10000</text><text transform="translate(1727.20 580.60) scale(0.3538 1)" font-size="17.44" fill="#222">8000</text><text transform="translate(1727.20 628.20) scale(0.3538 1)" font-size="17.44" fill="#222">6000</text><text transform="translate(1727.20 677.60) scale(0.3538 1)" font-size="17.44" fill="#222">4000</text><text transform="translate(1727.20 726.80) scale(0.3538 1)" font-size="17.44" fill="#222">2000</text><text transform="translate(1737.80 776.00) scale(0.3200 1)" font-size="17.44" fill="#222">0</text><rect x="2251.5" y="441.7" width="51.7" height="51.6" fill="#f2f2f2" stroke="#e3e3e3" stroke-width="1"/><rect x="2253.5" y="449.6" width="11.3" height="10.6" fill="#008fd5"/><rect x="2253.5" y="472.0" width="11.3" height="11.3" fill="#fc4f30"/><text transform="translate(2269.50 460.20) scale(0.3729 1)" font-size="16.57" fill="#222">2018 cases</text><text transform="translate(2269.50 483.30) scale(0.3562 1)" font-size="17.44" fill="#222">2019 cases</text><rect x="990.4" y="432.0" width="570.3" height="339.0" fill="#f0f0f0"/><line x1="1014.20" y1="437.0" x2="1014.20" y2="771.0" stroke="#cfcfcf" stroke-width="1"/><line x1="1061.66" y1="437.0" x2="1061.66" y2="771.0" stroke="#cfcfcf" stroke-width="1"/><line x1="1109.12" y1="437.0" x2="1109.12" y2="771.0" stroke="#cfcfcf" stroke-width="1"/><line x1="1156.58" y1="437.0" x2="1156.58" y2="771.0" stroke="#cfcfcf" stroke-width="1"/><line x1="1204.04" y1="437.0" x2="1204.04" y2="771.0" stroke="#cfcfcf" stroke-width="1"/><line x1="1251.50" y1="437.0" x2="1251.50" y2="771.0" stroke="#cfcfcf" stroke-width="1"/><line x1="1298.96" y1="437.0" x2="1298.96" y2="771.0" stroke="#cfcfcf" stroke-width="1"/><line x1="1346.42" y1="437.0" x2="1346.42" y2="771.0" stroke="#cfcfcf" stroke-width="1"/><line x1="1393.88" y1="437.0" x2="1393.88" y2="771.0" stroke="#cfcfcf" stroke-width="1"/><line x1="1441.34" y1="437.0" x2="1441.34" y2="771.0" stroke="#cfcfcf" stroke-width="1"/><line x1="1488.80" y1="437.0" x2="1488.80" y2="771.0" stroke="#cfcfcf" stroke-width="1"/><line x1="1536.26" y1="437.0" x2="1536.26" y2="771.0" stroke="#cfcfcf" stroke-width="1"/><line x1="990.4" y1="725.70" x2="1560.7" y2="725.70" stroke="#c9c9c9" stroke-width="1.5"/><line x1="990.4" y1="683.70" x2="1560.7" y2="683.70" stroke="#c9c9c9" stroke-width="1.5"/><line x1="990.4" y1="640.80" x2="1560.7" y2="640.80" stroke="#c9c9c9" stroke-width="1.5"/><line x1="990.4" y1="597.50" x2="1560.7" y2="597.50" stroke="#c9c9c9" stroke-width="1.5"/><line x1="990.4" y1="554.60" x2="1560.7" y2="554.60" stroke="#c9c9c9" stroke-width="1.5"/><line x1="990.4" y1="511.50" x2="1560.7" y2="511.50" stroke="#c9c9c9" stroke-width="1.5"/><line x1="990.4" y1="468.60" x2="1560.7" y2="468.60" stroke="#c9c9c9" stroke-width="1.5"/><rect x="1524.46" y="449.10" width="11.80" height="317.40" fill="#008fd5"/><rect x="1014.20" y="723.00" width="11.80" height="43.50" fill="#fc4f30"/><rect x="1061.66" y="636.80" width="11.80" height="129.70" fill="#fc4f30"/><rect x="1109.12" y="613.70" width="11.80" height="152.80" fill="#fc4f30"/><text transform="translate(1162.00 424.50) scale(0.4133 1)" font-size="21.80" fill="#222">WHO Recorded Measles Cases in the USA 2018 &amp; 2019</text><text transform="translate(1003.30 785.60) scale(0.3825 1)" font-size="15.99" fill="#222">January</text><text transform="translate(1049.11 785.60) scale(0.3922 1)" font-size="15.99" fill="#222">February</text><text transform="translate(1100.37 785.60) scale(0.3977 1)" font-size="15.99" fill="#222">March</text><text transform="translate(1150.23 785.60) scale(0.3969 1)" font-size="15.99" fill="#222">April</text><text transform="translate(1198.24 785.60) scale(0.3867 1)" font-size="15.99" fill="#222">May</text><text transform="translate(1245.20 785.60) scale(0.3600 1)" font-size="15.99" fill="#222">June</text><text transform="translate(1293.81 785.60) scale(0.3679 1)" font-size="15.99" fill="#222">July</text><text transform="translate(1336.67 785.60) scale(0.3900 1)" font-size="15.99" fill="#222">August</text><text transform="translate(1378.78 785.60) scale(0.3823 1)" font-size="15.99" fill="#222">September</text><text transform="translate(1430.29 785.60) scale(0.3810 1)" font-size="15.99" fill="#222">October</text><text transform="translate(1474.25 785.60) scale(0.3932 1)" font-size="15.99" fill="#222">November</text><text transform="translate(1521.71 785.60) scale(0.3932 1)" font-size="15.99" fill="#222">December</text><text transform="translate(981.60 731.70) scale(0.3632 1)" font-size="17.44" fill="#222">50</text><text transform="translate(978.15 689.70) scale(0.3569 1)" font-size="17.44" fill="#222">100</text><text transform="translate(978.15 646.80) scale(0.3569 1)" font-size="17.44" fill="#222">150</text><text transform="translate(978.15 603.50) scale(0.3569 1)" font-size="17.44" fill="#222">200</text><text transform="translate(978.15 560.60) scale(0.3569 1)" font-size="17.44" fill="#222">250</text><text transform="translate(978.15 517.50) scale(0.3569 1)" font-size="17.44" fill="#222">300</text><text transform="translate(978.15 474.60) scale(0.3569 1)" font-size="17.44" fill="#222">350</text><text transform="translate(985.30 774.50) scale(0.3200 1)" font-size="17.44" fill="#222">0</text><rect x="993.9" y="441.0" width="52.3" height="52.0" fill="#f2f2f2" stroke="#e3e3e3" stroke-width="1"/><rect x="996.0" y="449.1" width="10.9" height="10.9" fill="#008fd5"/><rect x="996.0" y="472.2" width="10.9" height="10.8" fill="#fc4f30"/><text transform="translate(1011.50 460.00) scale(0.3736 1)" font-size="17.01" fill="#222">2018 cases</text><text transform="translate(1011.50 483.00) scale(0.3736 1)" font-size="17.01" fill="#222">2019 cases</text><rect x="227.0" y="1465.5" width="590.5" height="134.5" fill="#f0f0f0"/><line x1="273.30" y1="1508.0" x2="273.30" y2="1600.0" stroke="#cfcfcf" stroke-width="1"/><line x1="320.38" y1="1508.0" x2="320.38" y2="1600.0" stroke="#cfcfcf" stroke-width="1"/><line x1="367.46" y1="1508.0" x2="367.46" y2="1600.0" stroke="#cfcfcf" stroke-width="1"/><line x1="414.54" y1="1508.0" x2="414.54" y2="1600.0" stroke="#cfcfcf" stroke-width="1"/><line x1="461.62" y1="1508.0" x2="461.62" y2="1600.0" stroke="#cfcfcf" stroke-width="1"/><line x1="508.70" y1="1508.0" x2="508.70" y2="1600.0" stroke="#cfcfcf" stroke-width="1"/><line x1="555.78" y1="1508.0" x2="555.78" y2="1600.0" stroke="#cfcfcf" stroke-width="1"/><line x1="602.86" y1="1508.0" x2="602.86" y2="1600.0" stroke="#cfcfcf" stroke-width="1"/><line x1="649.94" y1="1508.0" x2="649.94" y2="1600.0" stroke="#cfcfcf" stroke-width="1"/><line x1="697.02" y1="1508.0" x2="697.02" y2="1600.0" stroke="#cfcfcf" stroke-width="1"/><line x1="744.10" y1="1508.0" x2="744.10" y2="1600.0" stroke="#cfcfcf" stroke-width="1"/><line x1="791.18" y1="1508.0" x2="791.18" y2="1600.0" stroke="#cfcfcf" stroke-width="1"/><line x1="250.0" y1="1545.90" x2="814.0" y2="1545.90" stroke="#c9c9c9" stroke-width="1.5"/><line x1="250.0" y1="1587.50" x2="814.0" y2="1587.50" stroke="#c9c9c9" stroke-width="1.5"/><rect x="355.66" y="1520.20" width="11.80" height="79.80" fill="#008fd5"/><rect x="402.74" y="1578.10" width="11.80" height="21.90" fill="#008fd5"/><text transform="translate(378.00 1496.30) scale(0.4658 1)" font-size="26.89" fill="#222">WHO Recorded Measles Cases in France 2018 &amp; 2019</text><text transform="translate(231.30 1512.00) scale(0.4906 1)" font-size="18.90" fill="#222">800</text><text transform="translate(231.30 1554.50) scale(0.4906 1)" font-size="18.90" fill="#222">700</text><text transform="translate(231.30 1593.00) scale(0.4906 1)" font-size="18.90" fill="#222">600</text><rect x="737.6" y="1515.4" width="72.7" height="62.6" fill="#f2f2f2" stroke="#e3e3e3" stroke-width="1"/><rect x="740.5" y="1524.0" width="15.7" height="14.2" fill="#008fd5"/><rect x="740.5" y="1553.9" width="15.7" height="14.2" fill="#fc4f30"/><text transform="translate(761.90 1538.20) scale(0.4471 1)" font-size="19.91" fill="#222">2018 cases</text><text transform="translate(761.90 1568.10) scale(0.4471 1)" font-size="19.91" fill="#222">2019 cases</text><rect x="987.0" y="1500.3" width="574.8" height="99.7" fill="#f0f0f0"/><line x1="1011.90" y1="1505.4" x2="1011.90" y2="1600.0" stroke="#cfcfcf" stroke-width="1"/><line x1="1059.60" y1="1505.4" x2="1059.60" y2="1600.0" stroke="#cfcfcf" stroke-width="1"/><line x1="1107.30" y1="1505.4" x2="1107.30" y2="1600.0" stroke="#cfcfcf" stroke-width="1"/><line x1="1155.00" y1="1505.4" x2="1155.00" y2="1600.0" stroke="#cfcfcf" stroke-width="1"/><line x1="1202.70" y1="1505.4" x2="1202.70" y2="1600.0" stroke="#cfcfcf" stroke-width="1"/><line x1="1250.40" y1="1505.4" x2="1250.40" y2="1600.0" stroke="#cfcfcf" stroke-width="1"/><line x1="1298.10" y1="1505.4" x2="1298.10" y2="1600.0" stroke="#cfcfcf" stroke-width="1"/><line x1="1345.80" y1="1505.4" x2="1345.80" y2="1600.0" stroke="#cfcfcf" stroke-width="1"/><line x1="1393.50" y1="1505.4" x2="1393.50" y2="1600.0" stroke="#cfcfcf" stroke-width="1"/><line x1="1441.20" y1="1505.4" x2="1441.20" y2="1600.0" stroke="#cfcfcf" stroke-width="1"/><line x1="1488.90" y1="1505.4" x2="1488.90" y2="1600.0" stroke="#cfcfcf" stroke-width="1"/><line x1="1536.60" y1="1505.4" x2="1536.60" y2="1600.0" stroke="#cfcfcf" stroke-width="1"/><line x1="987.0" y1="1539.60" x2="1561.8" y2="1539.60" stroke="#c9c9c9" stroke-width="1.5"/><line x1="987.0" y1="1582.40" x2="1561.8" y2="1582.40" stroke="#c9c9c9" stroke-width="1.5"/><rect x="1059.60" y="1516.80" width="11.90" height="83.20" fill="#fc4f30"/><rect x="1107.30" y="1581.80" width="11.90" height="18.20" fill="#fc4f30"/><text transform="translate(1161.00 1493.00) scale(0.4143 1)" font-size="21.80" fill="#222">WHO Recorded Measles Cases in Canada 2018 &amp; 2019</text><text transform="translate(977.00 1545.60) scale(0.3789 1)" font-size="17.44" fill="#222">14</text><text transform="translate(977.00 1588.40) scale(0.3789 1)" font-size="17.44" fill="#222">12</text><rect x="1504.7" y="1509.7" width="52.8" height="51.3" fill="#f2f2f2" stroke="#e3e3e3" stroke-width="1"/><rect x="1506.7" y="1517.4" width="11.3" height="11.4" fill="#008fd5"/><rect x="1506.7" y="1540.5" width="11.3" height="11.1" fill="#fc4f30"/><text transform="translate(1522.70 1528.80) scale(0.3824 1)" font-size="16.57" fill="#222">2018 cases</text><text transform="translate(1522.70 1551.60) scale(0.3963 1)" font-size="16.13" fill="#222">2019 cases</text><rect x="1733.5" y="1500.3" width="574.1" height="99.7" fill="#f0f0f0"/><line x1="1757.70" y1="1505.0" x2="1757.70" y2="1600.0" stroke="#cfcfcf" stroke-width="1"/><line x1="1805.37" y1="1505.0" x2="1805.37" y2="1600.0" stroke="#cfcfcf" stroke-width="1"/><line x1="1853.04" y1="1505.0" x2="1853.04" y2="1600.0" stroke="#cfcfcf" stroke-width="1"/><line x1="1900.71" y1="1505.0" x2="1900.71" y2="1600.0" stroke="#cfcfcf" stroke-width="1"/><line x1="1948.38" y1="1505.0" x2="1948.38" y2="1600.0" stroke="#cfcfcf" stroke-width="1"/><line x1="1996.05" y1="1505.0" x2="1996.05" y2="1600.0" stroke="#cfcfcf" stroke-width="1"/><line x1="2043.72" y1="1505.0" x2="2043.72" y2="1600.0" stroke="#cfcfcf" stroke-width="1"/><line x1="2091.39" y1="1505.0" x2="2091.39" y2="1600.0" stroke="#cfcfcf" stroke-width="1"/><line x1="2139.06" y1="1505.0" x2="2139.06" y2="1600.0" stroke="#cfcfcf" stroke-width="1"/><line x1="2186.73" y1="1505.0" x2="2186.73" y2="1600.0" stroke="#cfcfcf" stroke-width="1"/><line x1="2234.40" y1="1505.0" x2="2234.40" y2="1600.0" stroke="#cfcfcf" stroke-width="1"/><line x1="2282.07" y1="1505.0" x2="2282.07" y2="1600.0" stroke="#cfcfcf" stroke-width="1"/><line x1="1733.5" y1="1517.40" x2="2307.6" y2="1517.40" stroke="#c9c9c9" stroke-width="1.5"/><line x1="1733.5" y1="1571.90" x2="2307.6" y2="1571.90" stroke="#c9c9c9" stroke-width="1.5"/><rect x="1841.34" y="1517.40" width="11.70" height="82.60" fill="#008fd5"/><rect x="1757.70" y="1581.80" width="11.70" height="18.20" fill="#fc4f30"/><text transform="translate(1904.00 1493.00) scale(0.4189 1)" font-size="21.80" fill="#222">WHO Recorded Measles Cases in Australia 2018 &amp; 2019</text><text transform="translate(1724.00 1523.40) scale(0.3789 1)" font-size="17.44" fill="#222">30</text><text transform="translate(1724.00 1577.90) scale(0.3789 1)" font-size="17.44" fill="#222">25</text><rect x="2251.0" y="1509.7" width="53.0" height="51.3" fill="#f2f2f2" stroke="#e3e3e3" stroke-width="1"/><rect x="2253.0" y="1517.4" width="11.3" height="11.4" fill="#008fd5"/><rect x="2253.0" y="1540.5" width="11.3" height="11.1" fill="#fc4f30"/><text transform="translate(2269.00 1528.80) scale(0.3824 1)" font-size="16.57" fill="#222">2018 cases</text><text transform="translate(2269.00 1551.60) scale(0.3963 1)" font-size="16.13" fill="#222">2019 cases</text></svg>
</body></html>
